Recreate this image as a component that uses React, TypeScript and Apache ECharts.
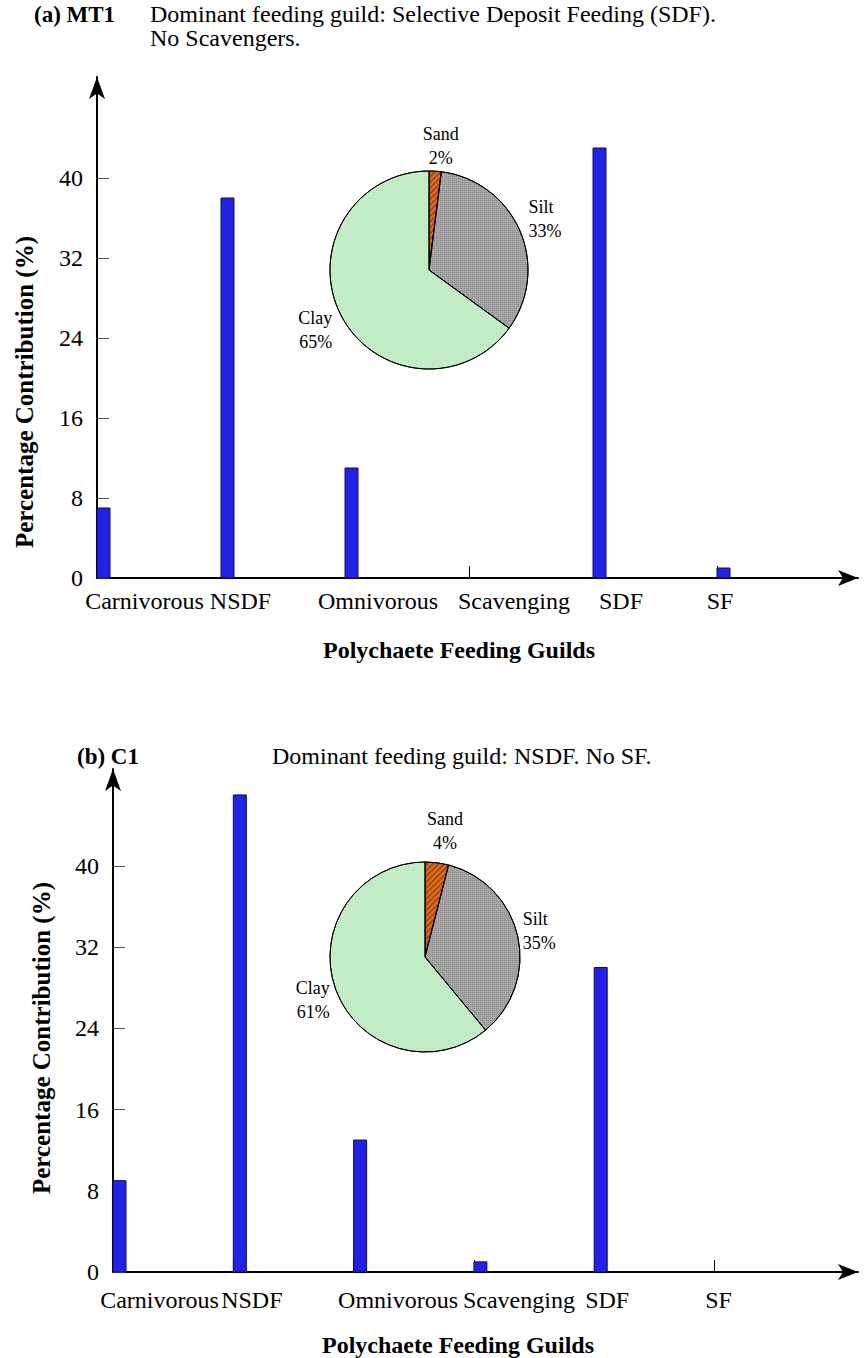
import React, { useEffect, useRef } from 'react';
import * as echarts from 'echarts';

// Polychaete feeding guild composition (% contribution) at two stations
const GUILDS = ['Carnivorous', 'NSDF', 'Omnivorous', 'Scavenging', 'SDF', 'SF'];
const MT1_GUILD_PCT = [7, 38, 11, 0, 43, 1];
const C1_GUILD_PCT = [9, 47, 13, 1, 30, 0];
const Y_TICKS = [0, 8, 16, 24, 32, 40];

// Sediment texture (inset pies)
const SEDIMENTS = ['Sand', 'Silt', 'Clay'];
const MT1_SEDIMENT_PCT = [2, 33, 65];
const C1_SEDIMENT_PCT = [4, 35, 61];

const SERIF = 'Liberation Serif';
const BAR_WIDTH = 13;
const BAR_FILL = '#2121e8';
const BAR_EDGE = '#0c0c60';
const SEDIMENT_COLORS = ['#e0701e', '#a7a7a7', '#c7efca'];
const SEDIMENT_DECALS = [
  { symbol: 'rect', symbolSize: 1, dashArrayX: [1, 0], dashArrayY: [2, 2], rotation: -Math.PI / 4, color: 'rgba(120,40,0,0.55)' },
  { symbol: 'rect', symbolSize: 1, dashArrayX: [1, 1], dashArrayY: [1, 1], rotation: 0, color: 'rgba(90,90,90,0.35)' },
  { symbol: 'rect', symbolSize: 1, dashArrayX: [1, 1], dashArrayY: [1, 1], rotation: 0, color: 'rgba(140,200,145,0.35)' },
];

type PanelLayout = {
  grid: { left: number; top: number; width: number; height: number };
  xMax: number;
  yMax: number;
  xLabelPad: number[];
  xLabelMargin: number;
  xNameGap: number;
  xNamePad: number;
  yNameGap: number;
  yNamePad: number;
  pieCenter: [number, number];
  pieRadius: number;
  pieLabelLen: number[];
  pieLabelDy: number[];
  stationPos: [number, number];
  notePos: [number, number];
};

type Panel = {
  station: string;
  note: string[];
  guilds: number[];
  sediment: number[];
  layout: PanelLayout;
};

const PANELS: Panel[] = [
  {
    station: '(a) MT1',
    note: ['Dominant feeding guild: Selective Deposit Feeding (SDF).', 'No Scavengers.'],
    guilds: MT1_GUILD_PCT,
    sediment: MT1_SEDIMENT_PCT,
    layout: {
      grid: { left: 97, top: 77, width: 761, height: 501 },
      xMax: 761 / 124,
      yMax: 50.1,
      xLabelPad: [95, 39, 66, 90, 56, 6],
      xLabelMargin: 11,
      xNameGap: 60,
      xNamePad: 37,
      yNameGap: 60,
      yNamePad: 129,
      pieCenter: [429, 270],
      pieRadius: 99,
      pieLabelLen: [25, 5, 5],
      pieLabelDy: [0, -10, 13],
      stationPos: [34, 14],
      notePos: [150, 14],
    },
  },
  {
    station: '(b) C1',
    note: ['Dominant feeding guild: NSDF. No SF.'],
    guilds: C1_GUILD_PCT,
    sediment: C1_SEDIMENT_PCT,
    layout: {
      grid: { left: 113, top: 769, width: 745, height: 503 },
      xMax: 745 / 120.3,
      yMax: 503 / 10.15,
      xLabelPad: [93, 37, 89, 90, 26, 8],
      xLabelMargin: 16,
      xNameGap: 61,
      xNamePad: 55,
      yNameGap: 59,
      yNamePad: 35,
      pieCenter: [425, 957],
      pieRadius: 95,
      pieLabelLen: [32, 1, 2],
      pieLabelDy: [0, -5, 10],
      stationPos: [77, 756],
      notePos: [272, 756],
    },
  },
];

function buildOption() {
  const grid: any[] = [];
  const xAxis: any[] = [];
  const yAxis: any[] = [];
  const series: any[] = [];
  const graphic: any[] = [];
  const guildIdx = GUILDS.map((_, i) => i);

  PANELS.forEach((p, k) => {
    const L = p.layout;
    grid.push({ ...L.grid, containLabel: false, outerBoundsMode: 'none' });

    const rich: Record<string, any> = {};
    GUILDS.forEach((_, i) => {
      rich['g' + i] = {
        fontFamily: SERIF,
        fontSize: 24,
        color: '#000',
        padding: [0, 0, 0, L.xLabelPad[i]],
      };
    });

    xAxis.push({
      gridIndex: k,
      type: 'value',
      min: 0,
      max: L.xMax,
      interval: 1,
      splitLine: { show: false },
      axisLine: {
        show: true,
        onZero: false,
        symbol: ['none', 'arrow'],
        symbolSize: [12, 20],
        lineStyle: { color: '#000', width: 2 },
      },
      axisTick: {
        show: true,
        inside: true,
        length: 12,
        customValues: guildIdx,
        lineStyle: { color: '#000', width: 1 },
      },
      axisLabel: {
        show: true,
        customValues: guildIdx,
        showMinLabel: true,
        showMaxLabel: true,
        margin: L.xLabelMargin,
        fontFamily: SERIF,
        fontSize: 24,
        color: '#000',
        formatter: (v: number) => `{g${Math.round(v)}|${GUILDS[Math.round(v)]}}`,
        rich,
      },
      name: 'Polychaete Feeding Guilds',
      nameLocation: 'middle',
      nameGap: L.xNameGap,
      nameMoveOverlap: false,
      nameTextStyle: {
        fontFamily: SERIF,
        fontSize: 24,
        fontWeight: 'bold',
        color: '#000',
        padding: [0, L.xNamePad, 0, 0],
      },
    });

    yAxis.push({
      gridIndex: k,
      type: 'value',
      min: 0,
      max: L.yMax,
      interval: 8,
      splitLine: { show: false },
      axisLine: {
        show: true,
        onZero: false,
        symbol: ['none', 'arrow'],
        symbolSize: [12, 22],
        lineStyle: { color: '#000', width: 2 },
      },
      axisTick: {
        show: true,
        inside: true,
        length: 12,
        customValues: Y_TICKS,
        lineStyle: { color: '#555', width: 1 },
      },
      axisLabel: {
        show: true,
        customValues: Y_TICKS,
        showMinLabel: true,
        showMaxLabel: true,
        margin: 14,
        fontFamily: SERIF,
        fontSize: 24,
        color: '#000',
      },
      name: 'Percentage Contribution (%)',
      nameLocation: 'middle',
      nameGap: L.yNameGap,
      nameMoveOverlap: false,
      nameTextStyle: {
        fontFamily: SERIF,
        fontSize: 25,
        fontWeight: 'bold',
        color: '#000',
        padding: [0, L.yNamePad, 0, 0],
      },
    });

    // Bars sit on the left edge of each guild's slot
    series.push({
      type: 'custom',
      xAxisIndex: k,
      yAxisIndex: k,
      clip: false,
      z: 3,
      silent: true,
      data: p.guilds.map((v, i) => [i, v]),
      encode: { x: 0, y: 1 },
      renderItem: (_params: any, api: any) => {
        const i = api.value(0);
        const v = api.value(1);
        if (!(v > 0)) return { type: 'group', children: [] };
        const base = api.coord([i, 0]);
        const top = api.coord([i, v]);
        return {
          type: 'rect',
          shape: { x: base[0], y: top[1], width: BAR_WIDTH, height: base[1] - top[1] },
          style: { fill: BAR_FILL, stroke: BAR_EDGE, lineWidth: 1 },
        };
      },
    });

    series.push({
      type: 'pie',
      center: L.pieCenter,
      radius: L.pieRadius,
      startAngle: 90,
      clockwise: true,
      avoidLabelOverlap: false,
      silent: true,
      z: 4,
      itemStyle: { borderColor: '#000', borderWidth: 1 },
      label: {
        show: true,
        position: 'outside',
        formatter: (q: any) => `${q.name}\n${q.value}%`,
        fontFamily: SERIF,
        fontSize: 18,
        lineHeight: 24,
        color: '#000',
        distanceToLabelLine: 4,
      },
      labelLine: { show: false, length: 5, length2: 0 },
      labelLayout: (q: any) => ({
        align: q.dataIndex === 0 ? 'center' : undefined,
        dy: L.pieLabelDy[q.dataIndex],
      }),
      data: SEDIMENTS.map((name, i) => ({
        name,
        value: p.sediment[i],
        itemStyle: { color: SEDIMENT_COLORS[i], decal: SEDIMENT_DECALS[i] },
        labelLine: { show: false, length: L.pieLabelLen[i], length2: 0 },
      })),
    });

    graphic.push({
      type: 'text',
      silent: true,
      style: {
        text: p.station,
        x: L.stationPos[0],
        y: L.stationPos[1],
        font: `bold 23px "${SERIF}"`,
        fill: '#000',
        verticalAlign: 'middle',
      },
    });
    p.note.forEach((line, j) => {
      graphic.push({
        type: 'text',
        silent: true,
        style: {
          text: line,
          x: L.notePos[0],
          y: L.notePos[1] + j * 24,
          font: `normal 24px "${SERIF}"`,
          fill: '#000',
          verticalAlign: 'middle',
        },
      });
    });
  });

  return {
    animation: false,
    backgroundColor: '#fff',
    textStyle: { fontFamily: SERIF },
    grid,
    xAxis,
    yAxis,
    series,
    graphic,
  };
}

export default function App() {
  const ref = useRef<HTMLDivElement>(null);

  useEffect(() => {
    document.body.style.margin = '0';
    if (!ref.current) return;
    const chart = echarts.init(ref.current, undefined, { renderer: 'svg' });
    chart.setOption(buildOption() as any);
    return () => chart.dispose();
  }, []);

  return <div ref={ref} style={{ width: 868, height: 1358 }} />;
}
